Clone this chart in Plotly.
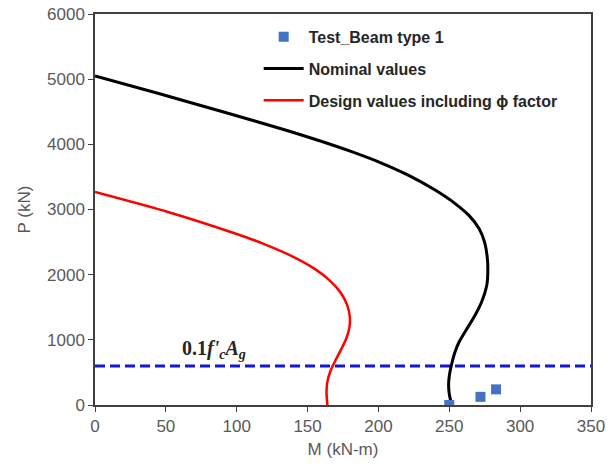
import plotly.graph_objects as go

# Nominal interaction curve (M in kN-m, P in kN)
nominal_M = [0, 46.2, 92.0, 134.3, 159.0, 180.1, 201.3, 222.4, 240.0, 254.1, 264.0, 271.0, 275.0, 276.8,
             277.2, 276.4, 272.8, 267.9, 261.9, 256.9, 253.8, 251.7, 250.1, 249.5, 250.1, 251.7]
nominal_P = [5048, 4772, 4488, 4220, 4051, 3895, 3720, 3512, 3298, 3091, 2906, 2707, 2492, 2262,
             2050, 1830, 1581, 1366, 1151, 967, 798, 629, 460, 307, 153, 0]

# Design interaction curve including phi factor
design_M = [0, 50.9, 97.9, 119.8, 139.2, 154.0, 165.2, 173.3, 177.9, 179.8, 179.5, 177.4, 173.8, 169.9,
            166.0, 163.8, 163.4, 164.0]
design_P = [3268, 2966, 2639, 2466, 2282, 2104, 1920, 1726, 1536, 1357, 1188, 1025, 858, 695,
            514, 336, 167, 0]

# Test results
test_M = [250, 272, 283]
test_P = [0, 125, 240]

# 0.1 f'c Ag line
limit_M = [0, 350]
limit_P = [600, 600]

x_ticks = [0, 50, 100, 150, 200, 250, 300, 350]
y_ticks = [0, 1000, 2000, 3000, 4000, 5000, 6000]

font_main = "Liberation Sans"
grey = "#595959"

fig = go.Figure()

fig.add_trace(go.Scatter(
    x=limit_M, y=limit_P, mode="lines",
    line=dict(color="#1515D5", width=3, dash="10px,5px"),
    showlegend=False, hoverinfo="skip"))

fig.add_trace(go.Scatter(
    x=nominal_M, y=nominal_P, mode="lines", name="<b>Nominal values</b>",
    line=dict(color="black", width=3, shape="spline", smoothing=0.6),
    legendgroup="b", legendrank=2))

fig.add_trace(go.Scatter(
    x=design_M, y=design_P, mode="lines", name="<b>Design values including ϕ factor</b>",
    line=dict(color="#FF0000", width=2.5, shape="spline", smoothing=0.6),
    legendgroup="c", legendrank=3))

fig.add_trace(go.Scatter(
    x=test_M, y=test_P, mode="markers", name="<b>Test_Beam type 1</b>",
    marker=dict(symbol="square", size=10, color="#4472C4"),
    legendgroup="a", legendrank=1))

fig.add_annotation(
    x=84, y=850, xref="x", yref="y", showarrow=False,
    text="<b>0.1<i>f'</i><sub><i>c</i></sub><i>A</i><sub><i>g</i></sub></b>",
    font=dict(family="Liberation Serif", size=20, color="#262626"))

fig.update_layout(
    width=608, height=473,
    margin=dict(l=95, r=17, t=14, b=68),
    paper_bgcolor="white", plot_bgcolor="white",
    font=dict(family=font_main, size=16, color=grey),
    legend=dict(
        x=0.33, y=0.985, xanchor="left", yanchor="top",
        bgcolor="rgba(0,0,0,0)", traceorder="grouped", tracegroupgap=8,
        font=dict(family=font_main, size=16, color="#262626"),
        itemwidth=40),
    xaxis=dict(
        range=[0, 350], tickvals=x_ticks, ticks="outside", ticklen=5,
        tickcolor="#404040", showline=True, linecolor="#404040", linewidth=1.5,
        mirror=True, showgrid=False, zeroline=False, automargin=False,
        title=dict(text="M (kN-m)", standoff=8, font=dict(size=17, color=grey)),
        tickfont=dict(size=17, color=grey)),
    yaxis=dict(
        range=[0, 6000], tickvals=y_ticks, ticks="outside", ticklen=5,
        tickcolor="#404040", showline=True, linecolor="#404040", linewidth=1.5,
        mirror=True, showgrid=False, zeroline=False, automargin=False,
        title=dict(text="P (kN)", standoff=12, font=dict(size=17, color=grey)),
        tickfont=dict(size=17, color=grey)),
)

fig.write_html("out.html")
